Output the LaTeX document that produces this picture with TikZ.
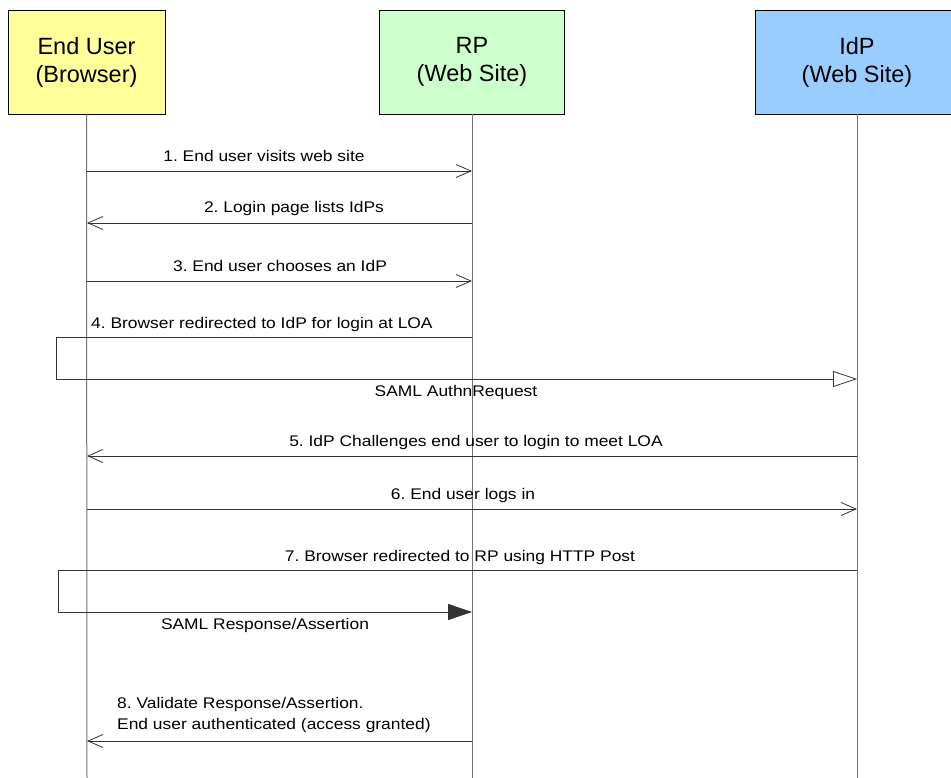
\documentclass[tikz,border=0pt]{standalone}
\usepackage{fontspec}
\setmainfont{Liberation Sans}
\newfontfamily\lblfont[FakeStretch=1.13]{Liberation Sans}
\usetikzlibrary{arrows.meta}
\frenchspacing
\begin{document}
\begin{tikzpicture}[x=1pt,y=-1pt,
  actor/.style={draw=black,line width=0.8pt,minimum width=157pt,minimum height=104pt,align=center,font=\fontsize{23.5}{28}\selectfont,inner sep=0pt},
  life/.style={draw=black!55,line width=1pt},
  msg/.style={draw=black!80,line width=0.8pt,-{Straight Barb[length=15pt,width=13pt,line width=0.8pt]}},
  lbl/.style={font=\lblfont\fontsize{15.4}{21}\selectfont,inner sep=0pt,anchor=base},
  opentri/.style={draw=black!80,line width=0.8pt,-{Triangle[open,length=24pt,width=16pt,line width=0.8pt]}},
  filltri/.style={draw=black!80,line width=0.8pt,-{Triangle[length=24pt,width=16pt]}}]
\useasboundingbox (0,0) rectangle (951,778);
\definecolor{cuser}{HTML}{FFFF99}
\definecolor{crp}{HTML}{CCFFCC}
\definecolor{cidp}{HTML}{99CCFF}
\node[actor,fill=cuser] (user) at (86.5,62) {End User\\(Browser)};
\node[actor,fill=crp,minimum width=185pt] (rp) at (472,62) {RP\\(Web Site)};
\node[actor,fill=cidp,minimum width=204pt] (idp) at (857,62) {IdP\\(Web Site)};
% lifeline ends
\coordinate (uB) at (87,778);
\coordinate (rB) at (472,778);
\coordinate (iB) at (857,778);
\draw[life] (user.south) -- (uB);
\draw[life] (rp.south) -- (rB);
\draw[life] (idp.south) -- (iB);
% message anchor points
\foreach \n/\y in {1/171,2/223,3/281,4/337,5/456,6/509,7/570,8/741}{
  \coordinate (u\n) at (87,\y);
  \coordinate (r\n) at (472,\y);
  \coordinate (i\n) at (857,\y);
}
\coordinate (l4a) at (56,337);
\coordinate (l4b) at (56,379);
\coordinate (i4b) at (857,379);
\coordinate (l7a) at (58,570);
\coordinate (l7b) at (58,612);
\coordinate (r7b) at (472,612);
% 1
\draw[msg] (u1) -- (r1);
\node[lbl] (t1) at (264,162) {1. End user visits web site};
% 2
\draw[msg] (r2) -- (u2);
\node[lbl] (t2) at (294,213) {2. Login page lists IdPs};
% 3
\draw[msg] (u3) -- (r3);
\node[lbl] (t3) at (280,272) {3. End user chooses an IdP};
% 4
\draw[opentri] (r4) -- (l4a) -- (l4b) -- (i4b);
\node[lbl,anchor=base west] (t4) at (91,328) {4. Browser redirected to IdP for login at LOA};
\node[lbl] (t4b) at (456,396) {SAML AuthnRequest};
% 5
\draw[msg] (i5) -- (u5);
\node[lbl] (t5) at (476,446) {5. IdP Challenges end user to login to meet LOA};
% 6
\draw[msg] (u6) -- (i6);
\node[lbl] (t6) at (463,499) {6. End user logs in};
% 7
\draw[filltri] (i7) -- (l7a) -- (l7b) -- (r7b);
\node[lbl] (t7) at (460,561) {7. Browser redirected to RP using HTTP Post};
\node[lbl] (t7b) at (265,629) {SAML Response/Assertion};
% 8
\node[lbl,anchor=base west] (t8a) at (117,708) {8. Validate Response/Assertion.};
\node[lbl,anchor=base west] (t8b) at (117,729) {End user authenticated (access granted)};
\draw[msg] (r8) -- (u8);
\end{tikzpicture}
\end{document}
